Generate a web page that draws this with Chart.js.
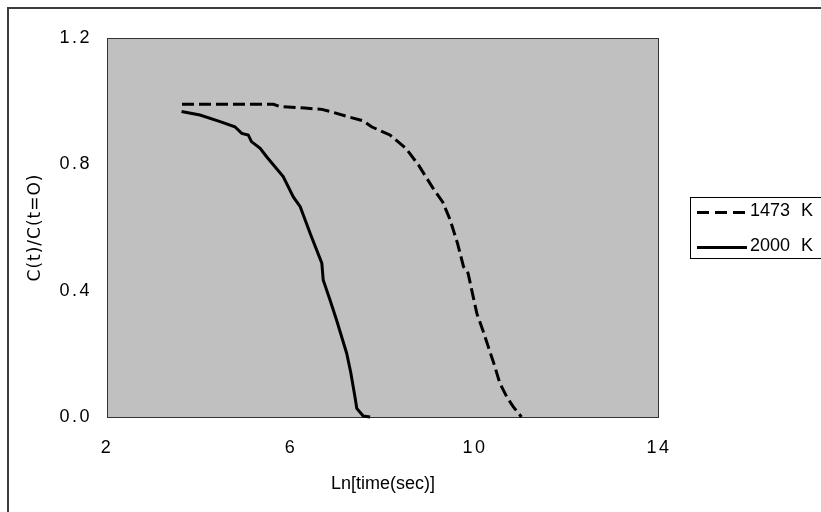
<!DOCTYPE html>
<html>
<head>
<meta charset="utf-8">
<script src="https://cdn.jsdelivr.net/npm/chart.js@4.4.1/dist/chart.umd.min.js"></script>
<style>
  html, body { margin: 0; padding: 0; background: #fff; }
  canvas { display: block; }
</style>
</head>
<body>
<canvas id="c" width="821" height="512"></canvas>
<script>
// Concentration ratio vs ln(time) for two temperatures
const seriesNames = ['1473 K', '2000 K'];

const lnTime1473 = [3.63, 4.20, 4.80, 5.30, 5.62, 5.76, 6.30, 6.67, 6.91, 7.28, 7.57, 7.75, 8.15, 8.50, 8.77,
                    9.09, 9.30, 9.46, 9.62, 9.75, 9.85, 9.96, 10.04, 10.17, 10.29, 10.42, 10.54, 10.69, 10.83, 11.01];
const ratio1473  = [0.99, 0.99, 0.99, 0.99, 0.99, 0.983, 0.978, 0.974, 0.965, 0.949, 0.938, 0.919, 0.893, 0.850, 0.798,
                    0.724, 0.680, 0.624, 0.550, 0.476, 0.455, 0.381, 0.328, 0.275, 0.222, 0.165, 0.107, 0.064, 0.033, 0.0];

const lnTime2000 = [3.62, 4.02, 4.46, 4.78, 4.93, 5.07, 5.14, 5.33, 5.47, 5.83, 6.05, 6.20, 6.43, 6.67, 6.70,
                    6.85, 6.99, 7.21, 7.30, 7.39, 7.43, 7.57, 7.72];
const ratio2000  = [0.967, 0.956, 0.935, 0.919, 0.898, 0.893, 0.872, 0.851, 0.824, 0.761, 0.697, 0.666, 0.576, 0.487, 0.434,
                    0.370, 0.307, 0.202, 0.140, 0.064, 0.027, 0.003, 0.0];

const xTicks = [2, 6, 10, 14];
const yTicks = [0, 0.4, 0.8, 1.2];
const xTitle = 'Ln[time(sec)]';
const yTitle = 'C(t)/C(t=O)';

const toPoints = (xs, ys) => xs.map((x, i) => ({ x: x, y: ys[i] }));

const TICK_FONT = { family: '"Liberation Sans", Arial, sans-serif', size: 18 };

const frame = {
  id: 'frame',
  beforeDraw(chart) {
    const { ctx, chartArea: a } = chart;
    ctx.save();
    ctx.fillStyle = '#fff';
    ctx.fillRect(0, 0, chart.width, chart.height);
    // outer chart border (runs off the right and bottom edges)
    ctx.strokeStyle = '#3c3c3c';
    ctx.lineWidth = 2;
    ctx.beginPath();
    ctx.moveTo(8, chart.height + 5);
    ctx.lineTo(8, 8);
    ctx.lineTo(chart.width + 5, 8);
    ctx.stroke();
    // plot area fill
    ctx.fillStyle = '#c0c0c0';
    ctx.fillRect(a.left, a.top, a.right - a.left, a.bottom - a.top);
    ctx.restore();
    ctx.letterSpacing = '2.5px';
  },
  beforeDatasetsDraw(chart) {
    const { ctx, chartArea: a } = chart;
    ctx.save();
    ctx.strokeStyle = '#333';
    ctx.lineWidth = 1;
    ctx.strokeRect(a.left + 0.5, a.top + 0.5, a.right - a.left - 1, a.bottom - a.top);
    ctx.restore();
  },
  afterDraw(chart) {
    const { ctx, chartArea: a } = chart;
    ctx.save();
    ctx.letterSpacing = '0px';
    ctx.fillStyle = '#000';
    ctx.textBaseline = 'middle';

    // x axis title
    ctx.font = '18px "Liberation Sans", Arial, sans-serif';
    ctx.textAlign = 'center';
    ctx.fillText(xTitle, (a.left + a.right) / 2, 484);

    // y axis title
    ctx.save();
    ctx.translate(36, (a.top + a.bottom) / 2);
    ctx.rotate(-Math.PI / 2);
    ctx.font = '17px "DejaVu Sans", sans-serif';
    ctx.letterSpacing = '1px';
    ctx.fillText(yTitle, 0, 0);
    ctx.restore();

    // legend box
    ctx.strokeStyle = '#000';
    ctx.lineWidth = 1;
    ctx.strokeRect(690.5, 197.5, 200, 61);
    const rows = [212.5, 247.5];
    chart.data.datasets.forEach((ds, i) => {
      const y = rows[i];
      ctx.save();
      ctx.strokeStyle = ds.borderColor;
      ctx.lineWidth = ds.borderWidth;
      ctx.setLineDash(ds.legendDash || []);
      ctx.beginPath();
      ctx.moveTo(697, y);
      ctx.lineTo(747, y);
      ctx.stroke();
      ctx.restore();
      ctx.font = '18px "Liberation Sans", Arial, sans-serif';
      ctx.textAlign = 'left';
      ctx.wordSpacing = '6px';
      ctx.fillText(ds.label, 750, y - 1);
    });
    ctx.restore();
  }
};

new Chart(document.getElementById('c'), {
  type: 'line',
  data: {
    datasets: [
      {
        label: seriesNames[0],
        data: toPoints(lnTime1473, ratio1473),
        borderColor: '#000',
        borderWidth: 3,
        borderDash: [12, 5],
        legendDash: [12, 6],
        pointRadius: 0,
        tension: 0,
        fill: false,
        clip: 4
      },
      {
        label: seriesNames[1],
        data: toPoints(lnTime2000, ratio2000),
        borderColor: '#000',
        borderWidth: 3,
        pointRadius: 0,
        tension: 0,
        fill: false,
        clip: 4
      }
    ]
  },
  options: {
    responsive: false,
    animation: false,
    devicePixelRatio: 1,
    layout: { padding: { top: 38, right: 162, left: 0, bottom: 0 } },
    plugins: {
      legend: { display: false },
      tooltip: { enabled: false }
    },
    scales: {
      x: {
        type: 'linear',
        min: 2,
        max: 14,
        afterBuildTicks(scale) { scale.ticks = xTicks.map(v => ({ value: v })); },
        afterFit(scale) { scale.height = 95; },
        grid: { display: false, drawTicks: false },
        border: { display: false },
        ticks: {
          color: '#000',
          font: TICK_FONT,
          padding: 20,
          maxRotation: 0,
          callback: v => String(v)
        }
      },
      y: {
        type: 'linear',
        min: 0,
        max: 1.2,
        afterBuildTicks(scale) { scale.ticks = yTicks.map(v => ({ value: v })); },
        afterFit(scale) { scale.width = 107; },
        grid: { display: false, drawTicks: false },
        border: { display: false },
        ticks: {
          color: '#000',
          font: TICK_FONT,
          padding: 15,
          callback: v => Number(v).toFixed(1)
        }
      }
    }
  },
  plugins: [frame]
});
</script>
</body>
</html>
